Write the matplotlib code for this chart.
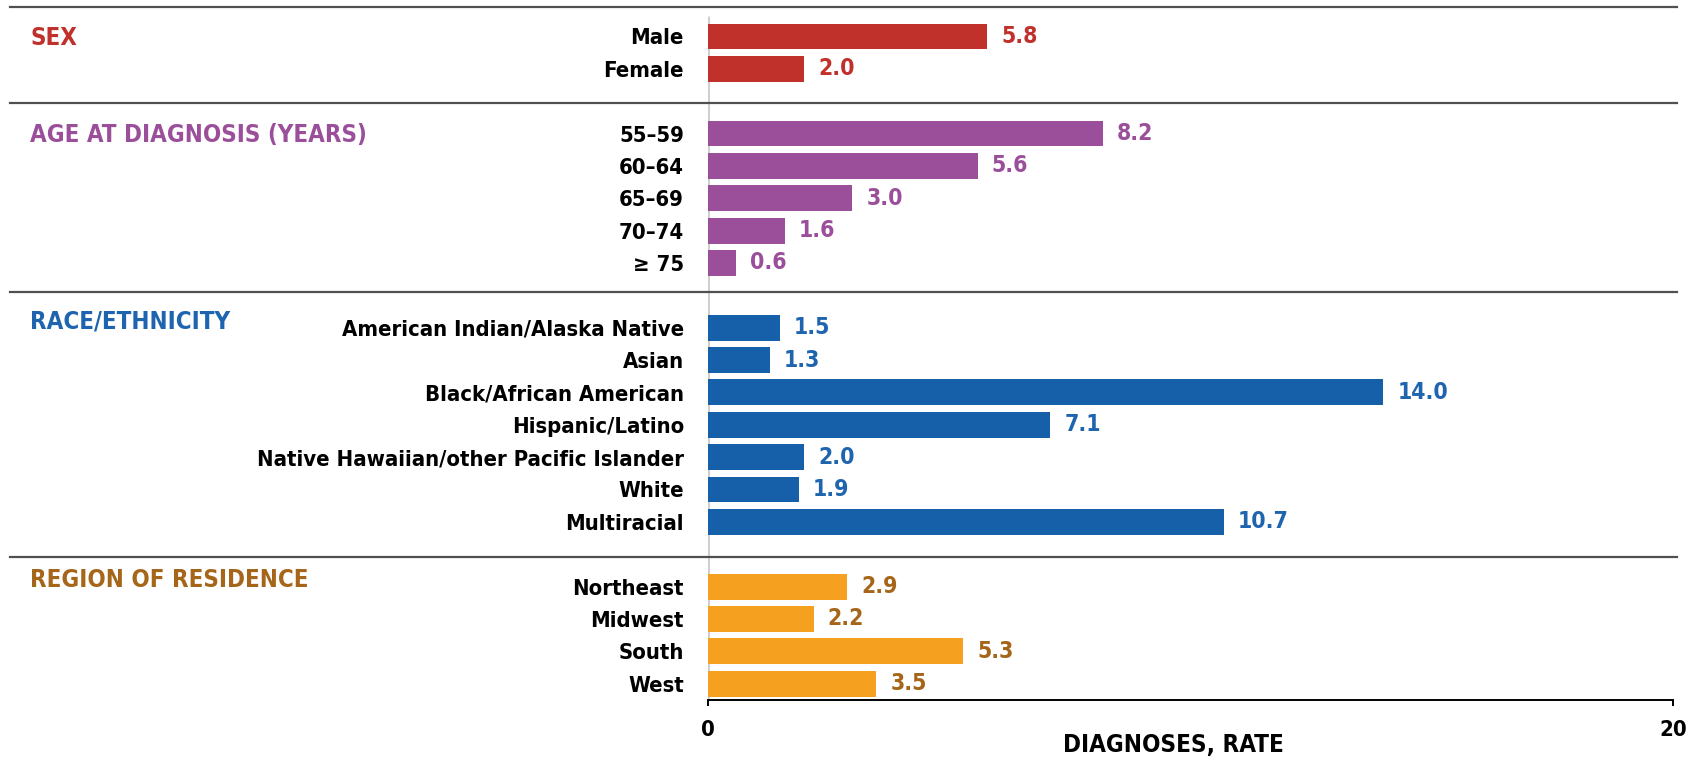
import matplotlib
matplotlib.use("Agg")
import matplotlib.pyplot as plt
import matplotlib.transforms as mtransforms

plt.rcParams['font.family'] = ['DejaVu Sans']
plt.rcParams['font.stretch'] = 'condensed'
plt.rcParams['font.weight'] = 'bold'

# data
sex_labels = ["Male", "Female"]
sex_values = [5.8, 2.0]
age_labels = ["55–59", "60–64", "65–69", "70–74", "≥ 75"]
age_values = [8.2, 5.6, 3.0, 1.6, 0.6]
race_labels = ["American Indian/Alaska Native", "Asian", "Black/African American",
               "Hispanic/Latino", "Native Hawaiian/other Pacific Islander",
               "White", "Multiracial"]
race_values = [1.5, 1.3, 14.0, 7.1, 2.0, 1.9, 10.7]
region_labels = ["Northeast", "Midwest", "South", "West"]
region_values = [2.9, 2.2, 5.3, 3.5]

groups = [
    ("SEX", sex_labels, sex_values, "#C0312B", "#C0312B"),
    ("AGE AT DIAGNOSIS (YEARS)", age_labels, age_values, "#9B4F9B", "#9B4F9B"),
    ("RACE/ETHNICITY", race_labels, race_values, "#1560A8", "#1F64AE"),
    ("REGION OF RESIDENCE", region_labels, region_values, "#F5A01F", "#A6661A"),
]

fig = plt.figure(figsize=(16.87, 7.58), dpi=100)
ax = fig.add_axes([707.5 / 1687, 1 - 699.5 / 758, (1673 - 707.5) / 1687, (699.5 - 6.7) / 758])

ytop, ybot = -0.92, 20.49
header_shift = [0.05, 0.05, -0.2, -0.2]
sep_pos = [ytop, 2.06, 7.91, 16.10]

blend = mtransforms.blended_transform_factory(fig.transFigure, ax.transData)

ticks, ticklabels = [], []
row = 0
for gi, (title, labels, values, bar_col, txt_col) in enumerate(groups):
    pos = list(range(row, row + len(labels)))
    ax.barh(pos, values, height=0.8, color=bar_col, zorder=3)
    for p, v in zip(pos, values):
        ax.annotate(f"{v:.1f}", (v, p), xytext=(10, 0), textcoords="offset points",
                    va="center", ha="left", color=txt_col, fontsize=16.5, fontweight="bold")
    ax.text(30 / 1687, row + header_shift[gi], title, transform=blend, color=txt_col,
            fontsize=17.3, fontweight="bold", va="center", ha="left")
    ticks += pos
    ticklabels += labels
    row += len(labels) + 1

for s in sep_pos:
    ax.plot([10 / 1687, 1677 / 1687], [s, s], transform=blend, color="#505050",
            lw=1.6, clip_on=False, zorder=5)

ax.vlines(0, -0.63, ybot, color="#cfcfcf", lw=2.2, zorder=1)

ax.set_xlim(0, 20)
ax.set_ylim(ybot, ytop)
ax.set_yticks(ticks, ticklabels)
ax.tick_params(axis="y", length=0, pad=17, labelsize=15.8)
ax.set_xticks([0, 20])
ax.tick_params(axis="x", length=4.5, width=1.4, direction="out", pad=10, labelsize=15.8)
for sp in ["top", "right", "left"]:
    ax.spines[sp].set_visible(False)
ax.spines["bottom"].set_linewidth(1.4)

ax.set_xlabel("DIAGNOSES, RATE", fontsize=17.4, fontweight="bold")
ax.xaxis.set_label_coords((1173 - 707.5) / 965.5, (699.5 - 745) / 692.8)
ax.xaxis.label.set_va("center")

plt.savefig("out.png", dpi=100)
